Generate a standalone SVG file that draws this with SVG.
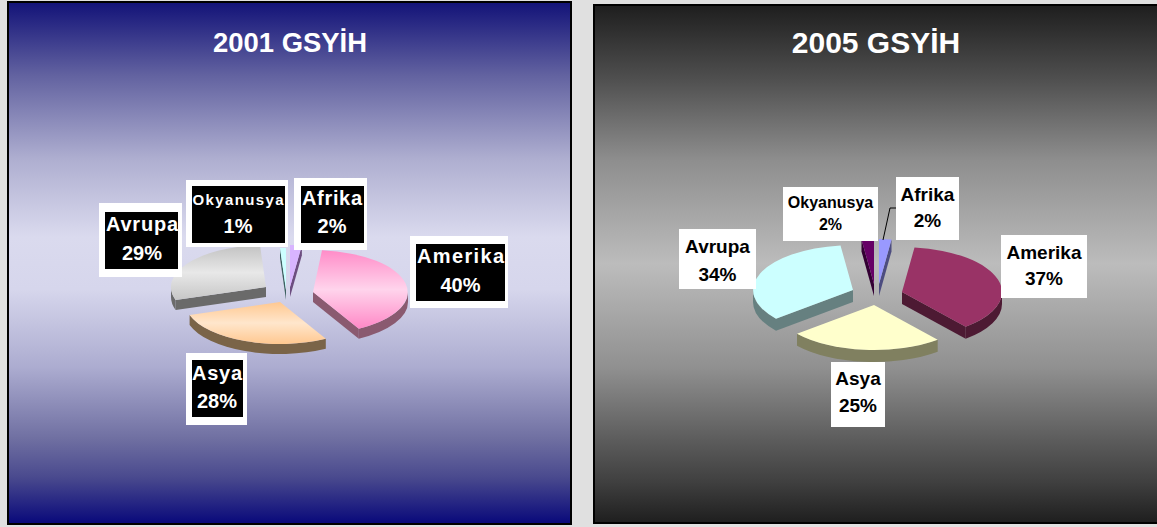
<svg xmlns="http://www.w3.org/2000/svg" width="1157" height="527" viewBox="0 0 1157 527">
<defs>
<linearGradient id="bgL" x1="0" y1="0" x2="0" y2="1">
<stop offset="0" stop-color="#121278"/>
<stop offset="0.14" stop-color="#6262a0"/>
<stop offset="0.3" stop-color="#aeaed0"/>
<stop offset="0.45" stop-color="#dadaee"/>
<stop offset="0.55" stop-color="#d6d6ec"/>
<stop offset="0.7" stop-color="#acacd0"/>
<stop offset="0.835" stop-color="#7070a2"/>
<stop offset="0.91" stop-color="#4a4a8e"/>
<stop offset="1" stop-color="#08087a"/>
</linearGradient>
<linearGradient id="bgR" x1="0" y1="0" x2="0" y2="1">
<stop offset="0" stop-color="#1e1e1e"/>
<stop offset="0.14" stop-color="#4e4e4e"/>
<stop offset="0.3" stop-color="#8e8e8e"/>
<stop offset="0.5" stop-color="#bcbcbc"/>
<stop offset="0.7" stop-color="#909090"/>
<stop offset="0.84" stop-color="#5c5c5c"/>
<stop offset="0.92" stop-color="#404040"/>
<stop offset="1" stop-color="#1e1e1e"/>
</linearGradient>
<linearGradient id="gPink" x1="0" y1="0" x2="0" y2="1">
<stop offset="0" stop-color="#ff8cc8"/>
<stop offset="0.5" stop-color="#ffd4ec"/>
<stop offset="1" stop-color="#ff88c6"/>
</linearGradient>
<linearGradient id="gPeach" x1="0" y1="0" x2="0" y2="1">
<stop offset="0" stop-color="#ffc890"/>
<stop offset="0.5" stop-color="#ffe6cc"/>
<stop offset="1" stop-color="#ffc890"/>
</linearGradient>
<linearGradient id="gGray" x1="0" y1="0" x2="0" y2="1">
<stop offset="0" stop-color="#c2c2c2"/>
<stop offset="0.5" stop-color="#e8e8e8"/>
<stop offset="1" stop-color="#c6c6c6"/>
</linearGradient>
<style>
.t{font-family:"Liberation Sans",Arial,sans-serif;font-weight:bold;text-anchor:middle}
.title{fill:#ffffff}
.lw{fill:#ffffff}
.lb{fill:#000000}
.wl{fill:#ffffff;font-size:20px}
.bl{fill:#000000;font-size:19px}
.lead{fill:none;stroke:#000000;stroke-width:1}
</style>
</defs>
<rect x="0" y="0" width="1157" height="527" fill="#e0e0e0"/>

<!-- Left panel -->
<g id="panel2001">
<rect x="8" y="2" width="563" height="522" fill="url(#bgL)" stroke="#000000" stroke-width="2"/>
<text class="t title" x="290" y="52" font-size="28" textLength="154" lengthAdjust="spacingAndGlyphs">2001 GSYİH</text>
</g>

<g id="pie2001">
<g id="s01-okyanusya">
<path d="M286,290 L280,248.1 L280,258.1 L286,300 Z" fill="#3d6060"/>
<path d="M286,290 L280,248.1 A95,42 0 0 1 286,248 Z" fill="#ccffff"/>
</g>
<g id="s01-afrika">
<path d="M290,287 L301.9,245.3 L301.9,255.3 L290,297 Z" fill="#6c4d80"/>
<path d="M290,287 L290,245 A95,42 0 0 1 301.9,245.3 Z" fill="#d8b4ff"/>
</g>
<g id="s01-avrupa">
<path d="M266,287 L175.6,300 L175.6,310 L266,297 Z" fill="#6a6a6a"/>
<path d="M175.6,300 A95,42 0 0 1 171,287 L171,297 A95,42 0 0 0 175.6,310 Z" fill="#6a6a6a"/>
<path d="M266,287 L175.6,300 A95,42 0 0 1 260,245.1 Z" fill="url(#gGray)"/>
</g>
<g id="s01-amerika">
<path d="M313,292 L358.8,328.8 L358.8,338.8 L313,302 Z" fill="#8a5a70"/>
<path d="M408,292 A95,42 0 0 1 358.8,328.8 L358.8,338.8 A95,42 0 0 0 408,302 Z" fill="#8a5a70"/>
<path d="M313,292 L322,250.3 A95,42 0 0 1 358.8,328.8 Z" fill="url(#gPink)"/>
</g>
<g id="s01-asya">
<path d="M325.8,338.8 A95,42 0 0 1 189.6,315 L189.6,325 A95,42 0 0 0 325.8,348.8 Z" fill="#7a6448"/>
<path d="M280,302 L325.8,338.8 A95,42 0 0 1 189.6,315 Z" fill="url(#gPeach)"/>
</g>
</g>

<g id="label01-avrupa">
<rect class="lw" x="99" y="203" width="83" height="74"/>
<rect class="lb" x="105" y="212" width="73" height="57"/>
<text class="t wl" x="142" y="231" textLength="72">Avrupa</text>
<text class="t wl" x="142" y="260">29%</text>
</g>
<g id="label01-okyanusya">
<rect class="lw" x="186" y="180" width="102" height="67"/>
<rect class="lb" x="192" y="186" width="93" height="57"/>
<text class="t" x="238" y="205" fill="#ffffff" font-size="15" textLength="91">Okyanusya</text>
<text class="t wl" x="238" y="233">1%</text>
</g>
<g id="label01-afrika">
<rect class="lw" x="294" y="178" width="73" height="72"/>
<rect class="lb" x="301" y="186" width="63" height="57"/>
<text class="t wl" x="332" y="205" textLength="60">Afrika</text>
<text class="t wl" x="332" y="233">2%</text>
</g>
<g id="label01-amerika">
<rect class="lw" x="410" y="236" width="98" height="72"/>
<rect class="lb" x="416" y="244" width="89" height="57"/>
<text class="t wl" x="460.5" y="263" textLength="87">Amerika</text>
<text class="t wl" x="460.5" y="292">40%</text>
</g>
<g id="label01-asya">
<rect class="lw" x="186" y="353" width="61" height="72"/>
<rect class="lb" x="192" y="360" width="51" height="57"/>
<text class="t wl" x="217" y="380" textLength="50">Asya</text>
<text class="t wl" x="217" y="408">28%</text>
</g>

<!-- Right panel -->
<g id="panel2005">
<rect x="594" y="5" width="570" height="518" fill="url(#bgR)" stroke="#000000" stroke-width="2"/>
<text class="t title" x="876" y="53" font-size="30">2005 GSYİH</text>
</g>

<g id="pie2005">
<g id="s05-okyanusya">
<path d="M874,284 L861.5,239.4 L861.5,251.4 L874,296 Z" fill="#330033"/>
<path d="M874,284 L861.5,239.4 A100,45 0 0 1 874,239 Z" fill="#660066"/>
</g>
<g id="s05-afrika">
<path d="M879,284 L891.5,239.4 L891.5,251.4 L879,296 Z" fill="#4d4d80"/>
<path d="M879,284 L879,239 A100,45 0 0 1 891.5,239.4 Z" fill="#9999ff"/>
</g>
<g id="s05-avrupa">
<path d="M853,290 L776,318.7 L776,330.7 L853,302 Z" fill="#668080"/>
<path d="M776,318.7 A100,45 0 0 1 753,290 L753,302 A100,45 0 0 0 776,330.7 Z" fill="#668080"/>
<path d="M853,290 L776,318.7 A100,45 0 0 1 840.5,245.4 Z" fill="#ccffff"/>
</g>
<g id="s05-amerika">
<path d="M902,292 L965.7,326.7 L965.7,338.7 L902,304 Z" fill="#4d1a33"/>
<path d="M1002,292 A100,45 0 0 1 965.7,326.7 L965.7,338.7 A100,45 0 0 0 1002,304 Z" fill="#4d1a33"/>
<path d="M902,292 L914.5,247.4 A100,45 0 0 1 965.7,326.7 Z" fill="#993366"/>
</g>
<g id="s05-asya">
<path d="M937.7,339.7 A100,45 0 0 1 797,333.7 L797,345.7 A100,45 0 0 0 937.7,351.7 Z" fill="#808060"/>
<path d="M874,305 L937.7,339.7 A100,45 0 0 1 797,333.7 Z" fill="#ffffcc"/>
</g>
</g>

<g id="connectors">
<polyline class="lead" points="896,208 890,208 883,240"/>
</g>

<g id="label05-okyanusya">
<rect class="lw" x="783" y="187" width="95" height="54"/>
<text class="t" x="830.5" y="208" fill="#000000" font-size="16">Okyanusya</text>
<text class="t" x="830.5" y="230" fill="#000000" font-size="16">2%</text>
</g>
<g id="label05-afrika">
<rect class="lw" x="896" y="177" width="63" height="63"/>
<text class="t bl" x="927.5" y="201">Afrika</text>
<text class="t bl" x="927.5" y="227">2%</text>
</g>
<g id="label05-amerika">
<rect class="lw" x="1001" y="235" width="86" height="63"/>
<text class="t bl" x="1044" y="259">Amerika</text>
<text class="t bl" x="1044" y="285">37%</text>
</g>
<g id="label05-avrupa">
<rect class="lw" x="679" y="229" width="77" height="60"/>
<text class="t bl" x="717.5" y="253">Avrupa</text>
<text class="t bl" x="717.5" y="281">34%</text>
</g>
<g id="label05-asya">
<rect class="lw" x="831" y="362" width="54" height="65"/>
<text class="t bl" x="858" y="385">Asya</text>
<text class="t bl" x="858" y="412">25%</text>
</g>
</svg>
